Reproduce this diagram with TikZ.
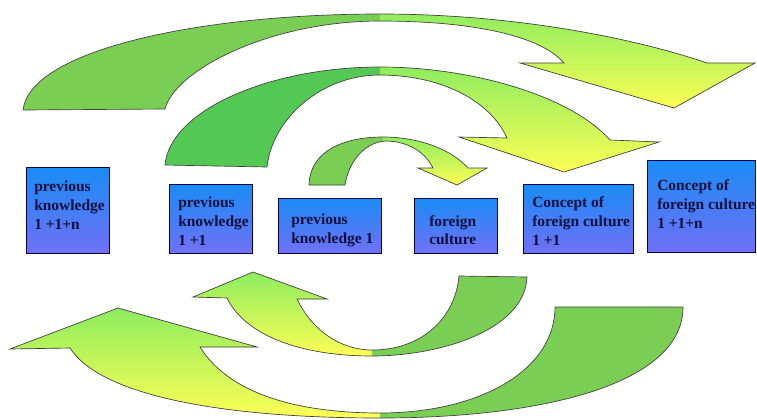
\documentclass[tikz,border=0pt]{standalone}
\usepackage{fontspec}
\setmainfont{Liberation Serif}
\usetikzlibrary{fit}
\definecolor{gflat}{RGB}{122,206,84}
\definecolor{gflatB}{RGB}{84,200,84}
\definecolor{glight}{RGB}{140,236,95}
\definecolor{gyel}{RGB}{255,255,85}
\definecolor{boxtop}{RGB}{25,140,245}
\definecolor{boxbot}{RGB}{112,112,245}
\definecolor{navy}{RGB}{15,15,62}
\begin{document}
\begin{tikzpicture}[x=0.75pt,y=-0.75pt,
  outline/.style={draw=black!75,line width=0.5pt},
  box/.style={draw=black!70!blue,line width=0.6pt,top color=boxtop,bottom color=boxbot,inner sep=0pt},
  lbl/.style={font=\bfseries\fontsize{11.6}{14}\selectfont,text=navy,align=left,inner sep=0pt,anchor=west}]
\useasboundingbox[fill=white] (0,0) rectangle (757,419);

% ---------- arrow A (top, outer) ----------
\path[save path=\pA] (23,110) .. controls (30,50) and (200,14) .. (380,14)
  .. controls (520,14) and (640,40) .. (707,63) -- (755,63) -- (674,108) -- (520,63) -- (564,63)
  .. controls (540,35) and (470,21) .. (380,21) .. controls (270,21) and (175,70) .. (165,109) -- cycle;
\fill[gflat,use path=\pA];
\begin{scope}\clip[use path=\pA];
  \shade[top color=glight,bottom color=gyel] (380,10) rectangle (760,110);
\end{scope}
\draw[outline,use path=\pA];

% ---------- arrow B (top, middle) ----------
\path[save path=\pB] (165,165) .. controls (170,110) and (270,67) .. (380,67)
  .. controls (470,67) and (570,95) .. (610,140) -- (659,142) -- (564,172) -- (459,137) -- (507,138)
  .. controls (490,100) and (440,75) .. (380,75) .. controls (320,75) and (272,120) .. (267,167) -- cycle;
\fill[gflatB,use path=\pB];
\begin{scope}\clip[use path=\pB];
  \shade[top color=glight,bottom color=gyel] (380,64) rectangle (665,174);
\end{scope}
\draw[outline,use path=\pB];

% ---------- arrow C (top, inner) ----------
\path[save path=\pC] (309,185) .. controls (310,150) and (345,137) .. (383,137)
  .. controls (420,137) and (452,150) .. (468,168) -- (487,168) -- (457,185) -- (418,168) -- (433,168)
  .. controls (425,152) and (408,141) .. (385,141) .. controls (362,143) and (348,165) .. (345,185) -- cycle;
\fill[gflat,use path=\pC];
\begin{scope}\clip[use path=\pC];
  \shade[top color=glight,bottom color=gyel] (383,135) rectangle (492,186);
\end{scope}
\draw[outline,use path=\pC];

% ---------- arrow D (bottom, inner) ----------
\path[save path=\pD] (459,276) -- (527,277) .. controls (525,330) and (440,356) .. (372,356)
  .. controls (300,356) and (245,335) .. (227,298) -- (193,297) -- (253,272) -- (327,299) -- (297,299)
  .. controls (312,330) and (340,350) .. (372,350) .. controls (420,350) and (455,320) .. (459,276) -- cycle;
\fill[gflat,use path=\pD];
\begin{scope}\clip[use path=\pD];
  \shade[top color=glight,bottom color=gyel] (185,271) rectangle (372,358);
\end{scope}
\draw[outline,use path=\pD];

% ---------- arrow E (bottom, outer) ----------
\path[save path=\pE] (555,307) -- (683,307) .. controls (683,385) and (540,418) .. (380,418)
  .. controls (220,418) and (100,395) .. (70,348) -- (10,349) -- (118,308) -- (257,347) -- (200,347)
  .. controls (230,395) and (300,413) .. (380,413) .. controls (480,413) and (555,370) .. (555,307) -- cycle;
\fill[gflat,use path=\pE];
\begin{scope}\clip[use path=\pE];
  \shade[top color=glight,bottom color=gyel] (5,306) rectangle (380,419);
\end{scope}
\draw[outline,use path=\pE];

% ---------- boxes ----------
\node[box,fit={(26,167) (109,253)}] (b1) {};
\node[box,fit={(169,184) (252,253)}] (b2) {};
\node[box,fit={(278,198) (381,253)}] (b3) {};
\node[box,fit={(414,198) (497,253)}] (b4) {};
\node[box,fit={(523,184) (633,253)}] (b5) {};
\node[box,fit={(647,160) (755,252)}] (b6) {};

\node[lbl] (t1) at (34,205) {previous\\knowledge\\1 +1+n};
\node[lbl] (t2) at (178,221) {previous\\knowledge\\1 +1};
\node[lbl] (t3) at (291,230) {previous\\knowledge 1};
\node[lbl] (t4) at (429,230) {foreign\\culture};
\node[lbl] (t5) at (532,221) {Concept of\\foreign culture\\1 +1};
\node[lbl] (t6) at (657,204) {Concept of\\foreign culture\\1 +1+n};
\end{tikzpicture}
\end{document}
